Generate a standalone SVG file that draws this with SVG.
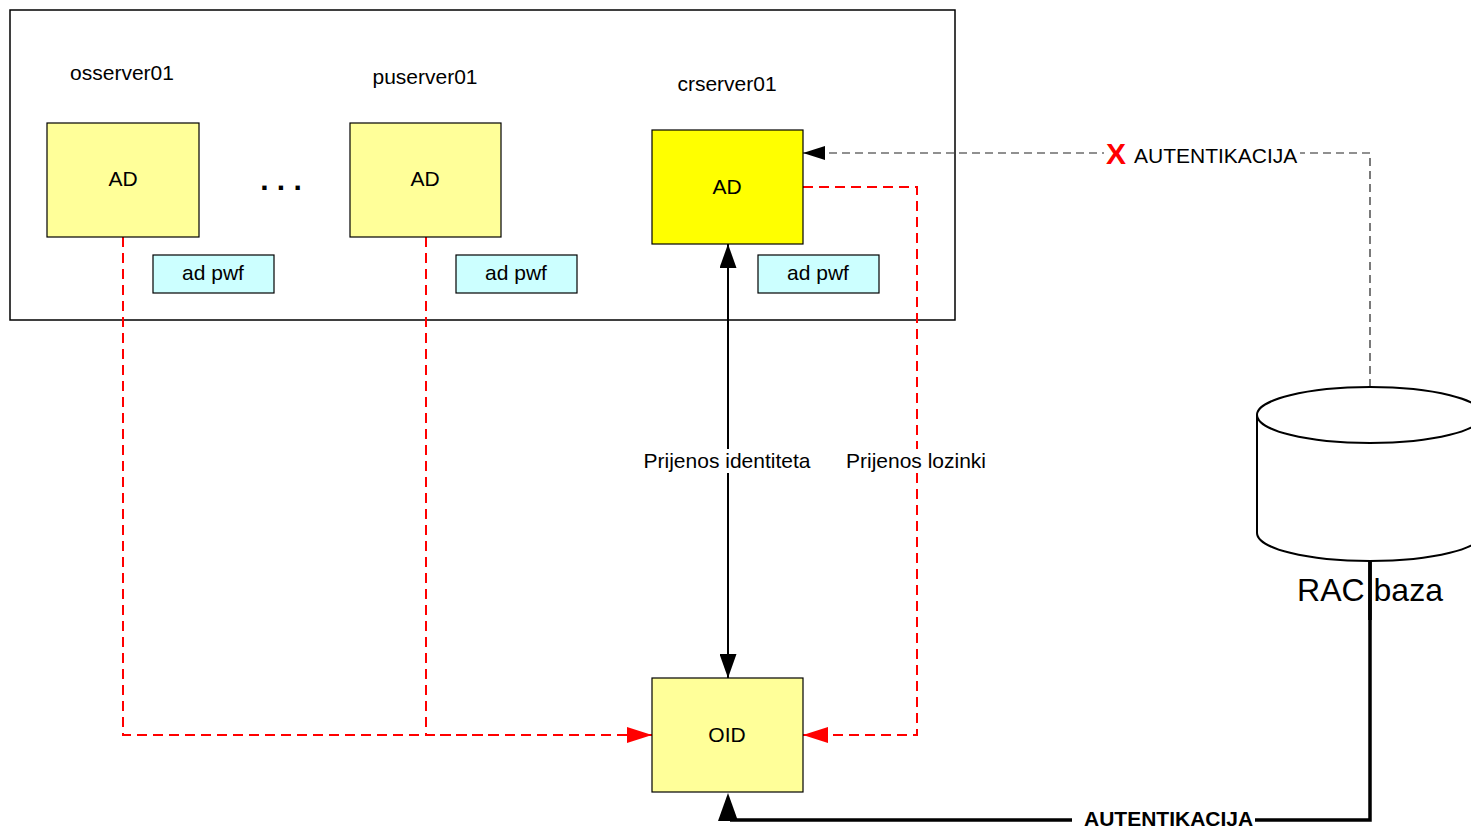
<svg xmlns="http://www.w3.org/2000/svg" width="1471" height="829" viewBox="0 0 1471 829">
<style>
text{font-family:"Liberation Sans",Arial,sans-serif;fill:#000}
.lbl{font-size:21px;text-anchor:middle}
.box{stroke:#000;stroke-width:1.2}
.ad{fill:#ffff99}
.pwf{fill:#ccffff}
.red{fill:none;stroke:#ff0000;stroke-width:2;stroke-dasharray:10,6}
.grey{fill:none;stroke:#222;stroke-width:1.2;stroke-dasharray:8,5}
</style>
<defs>
<marker id="ar" viewBox="0 0 10 10" refX="10" refY="5" markerWidth="25" markerHeight="16" markerUnits="userSpaceOnUse" orient="auto" preserveAspectRatio="none"><path d="M0,0 L10,5 L0,10 z" fill="#ff0000"/></marker>
<marker id="ab" viewBox="0 0 10 10" refX="10" refY="5" markerWidth="24" markerHeight="17" markerUnits="userSpaceOnUse" orient="auto-start-reverse" preserveAspectRatio="none"><path d="M0,0 L10,5 L0,10 z" fill="#000"/></marker>
<marker id="ag" viewBox="0 0 10 10" refX="10" refY="5" markerWidth="22" markerHeight="14" markerUnits="userSpaceOnUse" orient="auto" preserveAspectRatio="none"><path d="M0,0 L10,5 L0,10 z" fill="#000"/></marker>
</defs>
<rect width="1471" height="829" fill="#fff"/>
<rect id="frame" x="10" y="10" width="945" height="310" fill="none" stroke="#000" stroke-width="1.5"/>

<g id="connectors">
<polyline class="red" points="123,237 123,735 652,735" marker-end="url(#ar)"/>
<polyline class="red" points="426,237 426,735 500,735"/>
<polyline class="red" points="803,187 917,187 917,735 803,735" marker-end="url(#ar)"/>
<line x1="728" y1="244" x2="728" y2="678" stroke="#000" stroke-width="2" marker-start="url(#ab)" marker-end="url(#ab)"/>
<polyline class="grey" points="1370,387 1370,153 803,153" marker-end="url(#ag)"/>
<polyline points="1370,561 1370,820 730,820" fill="none" stroke="#000" stroke-width="3.5"/>
<path d="M718,821 L728,793 L738,821 z" fill="#000"/>
<rect x="640" y="449" width="176" height="24" fill="#fff"/>
<text class="lbl" x="727" y="468">Prijenos identiteta</text>
<rect x="842" y="449" width="148" height="24" fill="#fff"/>
<text class="lbl" x="916" y="468">Prijenos lozinki</text>
<rect x="1104" y="140" width="196" height="26" fill="#fff"/>
<text x="1106" y="164" style="font-size:30px;font-weight:bold;fill:#ff0000">X</text>
<text x="1134" y="163" style="font-size:21px">AUTENTIKACIJA</text>
<rect x="1072" y="807" width="183" height="22" fill="#fff"/>
<text x="1084" y="826" style="font-size:21px;font-weight:bold">AUTENTIKACIJA</text>
</g>

<g id="osserver01">
<text class="lbl" x="122" y="80">osserver01</text>
<rect class="box ad" x="47" y="123" width="152" height="114"/>
<text class="lbl" x="123" y="186">AD</text>
<rect class="box pwf" x="153" y="255" width="121" height="38"/>
<text class="lbl" x="213" y="280">ad pwf</text>
</g>
<g id="dots"><text class="lbl" x="281" y="190" style="font-size:30px;font-weight:bold">. . .</text></g>
<g id="puserver01">
<text class="lbl" x="425" y="84">puserver01</text>
<rect class="box ad" x="350" y="123" width="151" height="114"/>
<text class="lbl" x="425" y="186">AD</text>
<rect class="box pwf" x="456" y="255" width="121" height="38"/>
<text class="lbl" x="516" y="280">ad pwf</text>
</g>
<g id="crserver01">
<text class="lbl" x="727" y="91">crserver01</text>
<rect class="box" x="652" y="130" width="151" height="114" fill="#ffff00"/>
<text class="lbl" x="727" y="194">AD</text>
<rect class="box pwf" x="758" y="255" width="121" height="38"/>
<text class="lbl" x="818" y="280">ad pwf</text>
</g>
<g id="oid">
<rect class="box ad" x="652" y="678" width="151" height="114"/>
<text class="lbl" x="727" y="742">OID</text>
</g>
<g id="rac">
<path d="M1257,415 L1257,533 A113,28 0 0 0 1483,533 L1483,415" fill="#fff" stroke="#000" stroke-width="2"/>
<ellipse cx="1370" cy="415" rx="113" ry="28" fill="#fff" stroke="#000" stroke-width="2"/>
<text x="1370" y="601" style="font-size:32px;text-anchor:middle">RAC baza</text>
<line x1="1370" y1="561" x2="1370" y2="620" stroke="#000" stroke-width="3.5"/>
</g>
</svg>
